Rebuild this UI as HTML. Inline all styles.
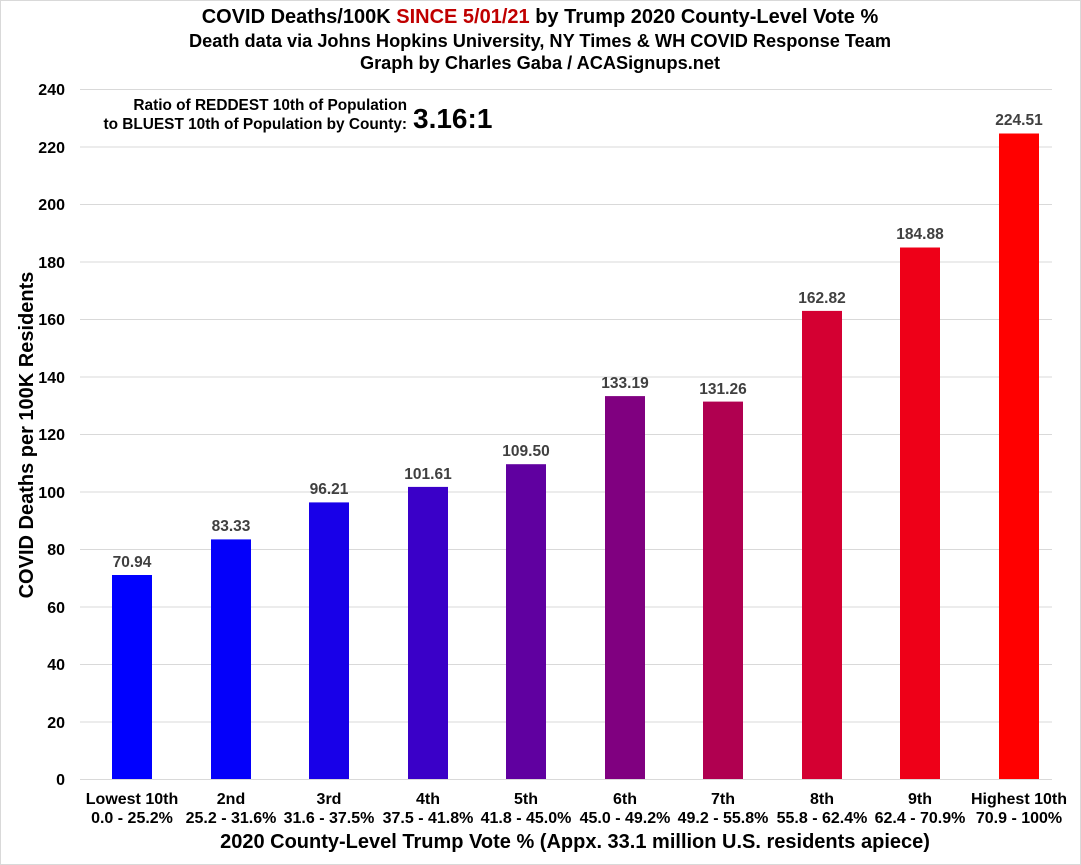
<!DOCTYPE html>
<html><head><meta charset="utf-8"><style>
html,body{margin:0;padding:0;background:#fff;}
svg{display:block;}
text{font-family:"Liberation Sans",Arial,sans-serif;font-weight:bold;}
</style></head><body>
<svg width="1081" height="865" viewBox="0 0 1081 865" xmlns="http://www.w3.org/2000/svg">
<rect x="0.5" y="0.5" width="1080" height="864" fill="#fff" stroke="#d9d9d9"/>
<text x="540" y="23" font-size="20" text-anchor="middle" fill="#000">COVID Deaths/100K <tspan fill="#c00000">SINCE 5/01/21</tspan> by Trump 2020 County-Level Vote %</text>
<text x="540" y="47" font-size="18.2" text-anchor="middle" fill="#000">Death data via Johns Hopkins University, NY Times &amp; WH COVID Response Team</text>
<text x="540" y="69" font-size="18.2" text-anchor="middle" fill="#000">Graph by Charles Gaba / ACASignups.net</text>
<g stroke="#d9d9d9" stroke-width="1">
<line x1="80" x2="1052" y1="89.5" y2="89.5"/>
<line x1="80" x2="1052" y1="147" y2="147"/>
<line x1="80" x2="1052" y1="204.5" y2="204.5"/>
<line x1="80" x2="1052" y1="262" y2="262"/>
<line x1="80" x2="1052" y1="319.5" y2="319.5"/>
<line x1="80" x2="1052" y1="377" y2="377"/>
<line x1="80" x2="1052" y1="434.5" y2="434.5"/>
<line x1="80" x2="1052" y1="492" y2="492"/>
<line x1="80" x2="1052" y1="549.5" y2="549.5"/>
<line x1="80" x2="1052" y1="607" y2="607"/>
<line x1="80" x2="1052" y1="664.5" y2="664.5"/>
<line x1="80" x2="1052" y1="722" y2="722"/>
<line x1="80" x2="1052" y1="779.5" y2="779.5"/>
</g>
<g font-size="16" text-anchor="end" fill="#000">
<text x="65" y="95">240</text><text x="65" y="153">220</text><text x="65" y="210">200</text>
<text x="65" y="268">180</text><text x="65" y="325">160</text><text x="65" y="383">140</text>
<text x="65" y="440">120</text><text x="65" y="498">100</text><text x="65" y="555">80</text>
<text x="65" y="613">60</text><text x="65" y="670">40</text><text x="65" y="728">20</text>
<text x="65" y="785">0</text>
</g>
<text transform="translate(33,435) rotate(-90)" font-size="20" text-anchor="middle" fill="#000">COVID Deaths per 100K Residents</text>
<text x="407" y="110" font-size="15.4" text-anchor="end" fill="#000">Ratio of REDDEST 10th of Population</text>
<text x="407" y="129" font-size="15.4" text-anchor="end" fill="#000">to BLUEST 10th of Population by County:</text>
<text x="413" y="128" font-size="28" fill="#000">3.16:1</text>
<g>
<rect x="112" y="575" width="40" height="204" fill="#0000ff"/>
<rect x="211" y="539.4" width="40" height="239.6" fill="#0400fa"/>
<rect x="309" y="502.4" width="40" height="276.6" fill="#1800e8"/>
<rect x="408" y="486.9" width="40" height="292.1" fill="#3a00c8"/>
<rect x="506" y="464.2" width="40" height="314.8" fill="#6000a0"/>
<rect x="605" y="396.1" width="40" height="382.9" fill="#800080"/>
<rect x="703" y="401.6" width="40" height="377.4" fill="#b00050"/>
<rect x="802" y="310.9" width="40" height="468.1" fill="#d40032"/>
<rect x="900" y="247.5" width="40" height="531.5" fill="#ee0018"/>
<rect x="999" y="133.5" width="40" height="645.5" fill="#ff0000"/>
</g>
<g font-size="15.5" text-anchor="middle" fill="#404040">
<text x="132" y="567">70.94</text>
<text x="231" y="531">83.33</text>
<text x="329" y="494">96.21</text>
<text x="428" y="479">101.61</text>
<text x="526" y="456">109.50</text>
<text x="625" y="388">133.19</text>
<text x="723" y="394">131.26</text>
<text x="822" y="303">162.82</text>
<text x="920" y="239">184.88</text>
<text x="1019" y="125">224.51</text>
</g>
<g font-size="16" text-anchor="middle" fill="#000">
<text x="132" y="804">Lowest 10th</text><text x="132" y="823">0.0 - 25.2%</text>
<text x="231" y="804">2nd</text><text x="231" y="823">25.2 - 31.6%</text>
<text x="329" y="804">3rd</text><text x="329" y="823">31.6 - 37.5%</text>
<text x="428" y="804">4th</text><text x="428" y="823">37.5 - 41.8%</text>
<text x="526" y="804">5th</text><text x="526" y="823">41.8 - 45.0%</text>
<text x="625" y="804">6th</text><text x="625" y="823">45.0 - 49.2%</text>
<text x="723" y="804">7th</text><text x="723" y="823">49.2 - 55.8%</text>
<text x="822" y="804">8th</text><text x="822" y="823">55.8 - 62.4%</text>
<text x="920" y="804">9th</text><text x="920" y="823">62.4 - 70.9%</text>
<text x="1019" y="804">Highest 10th</text><text x="1019" y="823">70.9 - 100%</text>
</g>
<text x="575" y="848" font-size="20" text-anchor="middle" fill="#000">2020 County-Level Trump Vote % (Appx. 33.1 million U.S. residents apiece)</text>
</svg>
</body></html>
